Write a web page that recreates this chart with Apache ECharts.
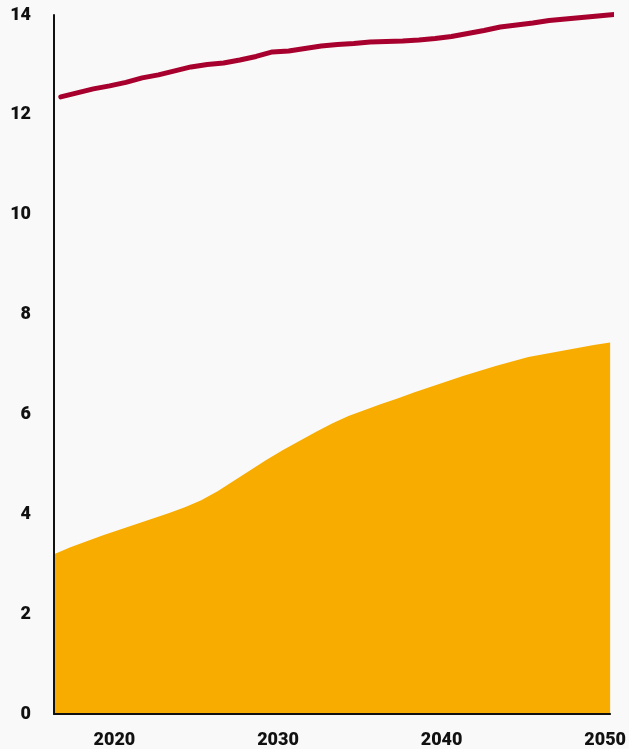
<!DOCTYPE html>
<html>
<head>
<meta charset="utf-8">
<script src="https://cdn.jsdelivr.net/npm/echarts@6/dist/echarts.min.js"></script>
<style>
  html, body { margin: 0; padding: 0; background: #f9f9f9; }
  #chart { width: 629px; height: 749px; }
</style>
</head>
<body>
<div id="chart"></div>
<script>
// Data
const years = [2016,2017,2018,2019,2020,2021,2022,2023,2024,2025,2026,2027,2028,2029,2030,2031,2032,2033,2034,2035,2036,2037,2038,2039,2040,2041,2042,2043,2044,2045,2046,2047,2048,2049,2050];
const lineValues = [12.36,12.44,12.52,12.58,12.65,12.74,12.80,12.88,12.96,13.01,13.04,13.10,13.17,13.26,13.28,13.33,13.38,13.41,13.43,13.46,13.47,13.48,13.50,13.53,13.57,13.63,13.69,13.76,13.80,13.84,13.89,13.92,13.95,13.98,14.01];
const areaValues = [3.20,3.34,3.46,3.58,3.69,3.80,3.91,4.02,4.14,4.28,4.46,4.67,4.88,5.09,5.29,5.47,5.65,5.82,5.97,6.09,6.21,6.32,6.44,6.55,6.66,6.77,6.87,6.97,7.06,7.15,7.21,7.27,7.33,7.39,7.44];
const xTickLabels = [2020, 2030, 2040, 2050];
const yTicks = [0, 2, 4, 6, 8, 10, 12, 14];

const chart = echarts.init(document.getElementById('chart'), null, { renderer: 'canvas' });
const labelFont = { fontFamily: 'Roboto', fontWeight: 900, fontSize: 18, color: '#111' };

chart.setOption({
  backgroundColor: '#f9f9f9',
  animation: false,
  grid: { left: 54, right: 17.3, top: 15, bottom: 33, containLabel: false },
  xAxis: [
    {
      type: 'value', min: 2016, max: 2050, z: 5,
      axisLine: { show: true, onZero: false, lineStyle: { color: '#111', width: 2 } },
      axisTick: { show: false },
      splitLine: { show: false },
      axisLabel: Object.assign({ customValues: xTickLabels, margin: 17, padding: [0, 10, 0, 0],
        showMinLabel: true, showMaxLabel: true, formatter: v => String(v) }, labelFont)
    },
    {
      type: 'value', min: 2015.583, max: 2049.75, show: false
    }
  ],
  yAxis: {
    type: 'value', min: 0, max: 14, interval: 2, z: 5,
    axisLine: { show: true, lineStyle: { color: '#111', width: 2 } },
    axisTick: { show: false },
    splitLine: { show: false },
    axisLabel: Object.assign({ margin: 23, customValues: yTicks }, labelFont)
  },
  series: [
    {
      type: 'line',
      xAxisIndex: 0,
      data: years.map((y, i) => [y, areaValues[i]]),
      symbol: 'none',
      lineStyle: { width: 0 },
      areaStyle: { color: '#F8AC00', opacity: 1 },
      z: 2
    },
    {
      type: 'line',
      xAxisIndex: 1,
      data: years.map((y, i) => [y, lineValues[i]]),
      symbol: 'none',
      clip: false,
      lineStyle: { color: '#A8002E', width: 5, cap: 'round', join: 'round' },
      z: 3
    }
  ]
});
</script>
</body>
</html>
